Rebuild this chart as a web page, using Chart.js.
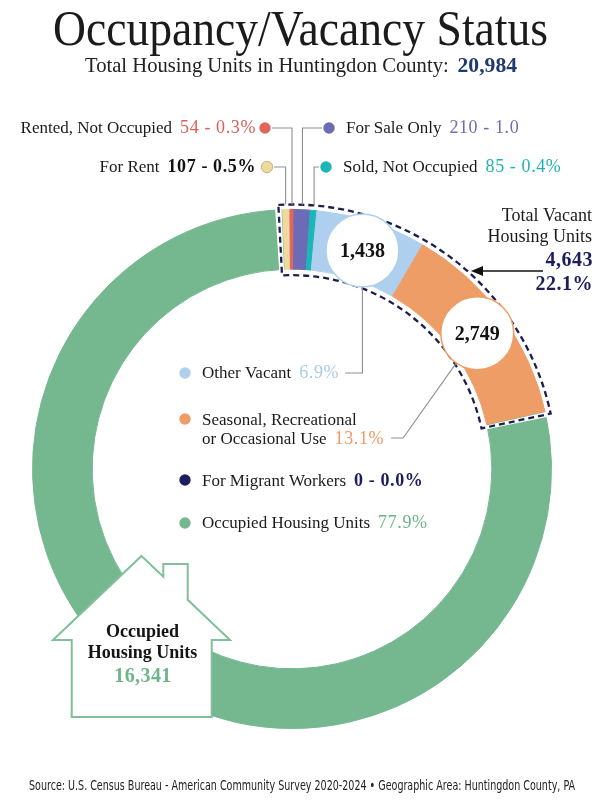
<!DOCTYPE html>
<html><head><meta charset="utf-8">
<script src="https://cdn.jsdelivr.net/npm/chart.js@4.4.1/dist/chart.umd.min.js"></script>
<style>
html,body{margin:0;padding:0;background:#fff;}
#wrap{position:relative;width:600px;height:808px;overflow:hidden;background:#fff;}
#c{position:absolute;left:0;top:0;width:600px;height:808px;}
.txt{position:absolute;white-space:nowrap;transform-origin:0 0;}
#title{font-family:'Liberation Serif',serif;font-size:50px;line-height:60px;color:#1b1b1b;left:53px;top:-2px;}
#sub{font-family:'Liberation Serif',serif;font-size:21px;line-height:25.2px;color:#222;left:85px;top:52px;}
#sub b{color:#1f3a6e;margin-left:9px;font-size:22px;}
#src{font-family:'Liberation Sans Narrow','DejaVu Sans Condensed',sans-serif;font-size:14px;line-height:16.8px;color:#222;left:29px;top:777px;}
</style></head>
<body>
<div id="wrap">
<canvas id="c" width="600" height="808"></canvas>
<div id="title" class="txt" data-w="495">Occupancy/Vacancy Status</div>
<div id="sub" class="txt" data-w="432">Total Housing Units in Huntingdon County:<b id="tot"></b></div>
<div id="src" class="txt" data-w="546">Source: U.S. Census Bureau - American Community Survey 2020-2024 • Geographic Area: Huntingdon County, PA</div>
</div>
<script>
const categories = ['For Rent', 'Rented, Not Occupied', 'For Sale Only', 'Sold, Not Occupied', 'Other Vacant', 'Seasonal, Recreational or Occasional Use', 'For Migrant Workers', 'Occupied Housing Units'];
const units = [107, 54, 210, 85, 1438, 2749, 0, 16341];
const colors = ['#efd99f', '#df6658', '#6b6bb6', '#1ab6b8', '#aecfee', '#ef9d66', '#1b1d5c', '#75b88f'];
const vacantIndexes = [0, 1, 2, 3, 4, 5, 6];

const totalUnits = units.reduce((a, b) => a + b, 0);
const vacantUnits = vacantIndexes.reduce((a, i) => a + units[i], 0);
const fmt = v => v.toLocaleString('en-US');
const pct = v => (v / totalUnits * 100).toFixed(1);

document.getElementById('tot').textContent = fmt(totalUnits);
document.querySelectorAll('[data-w]').forEach(el => {
  const w = el.getBoundingClientRect().width;
  el.style.transform = 'scaleX(' + (parseFloat(el.dataset.w) / w) + ')';
});

const SERIF = "'Liberation Serif', serif";
function fnt(p, size) { return (p.b ? 'bold ' : '') + (p.s || (p.n ? 18 : (size || 17))) + 'px ' + SERIF; }
function rich(ctx, parts, x, y, align, size) {
  const gap = 8;
  const ws = parts.map(p => { ctx.font = fnt(p, size); ctx.letterSpacing = p.n ? '0.6px' : '0px'; return ctx.measureText(p.t).width; });
  const total = ws.reduce((a, b) => a + b, 0) + gap * (parts.length - 1);
  let sx = align === 'right' ? x - total : x;
  ctx.textAlign = 'left';
  ctx.textBaseline = 'alphabetic';
  parts.forEach((p, i) => {
    ctx.font = fnt(p, size); ctx.letterSpacing = p.n ? '0.6px' : '0px';
    ctx.fillStyle = p.c || '#1a1a1a';
    ctx.fillText(p.t, sx, y);
    sx += ws[i] + gap;
  });
  ctx.letterSpacing = '0px';
  return align === 'right' ? x : sx - gap;
}
function dot(ctx, x, y, c, stroke) {
  ctx.beginPath(); ctx.arc(x, y, 5.7, 0, Math.PI * 2); ctx.fillStyle = c; ctx.fill();
  if (stroke) { ctx.lineWidth = 1; ctx.strokeStyle = stroke; ctx.stroke(); }
}

const annot = {
  id: 'annot',
  afterDatasetsDraw(chart) {
    const ctx = chart.ctx;
    const arcs = chart.getDatasetMeta(0).data;
    const A = i => arcs[i].getProps(['x', 'y', 'startAngle', 'endAngle', 'innerRadius', 'outerRadius'], true);
    const g = A(7);
    const cx = g.x, cy = g.y, ro = g.outerRadius, ri = g.innerRadius;
    const deg = Math.PI / 180;
    ctx.save();
    // gaps around the occupied segment
    ctx.fillStyle = '#fff';
    const wedge = (a0, a1, r0, r1) => { ctx.beginPath(); ctx.arc(cx, cy, r1, a0, a1); ctx.arc(cx, cy, r0, a1, a0, true); ctx.closePath(); ctx.fill(); };
    wedge(g.startAngle, g.startAngle + 1.1 * deg, ri - 2, ro + 2);
    wedge(g.endAngle - 1.4 * deg, g.endAngle, ri - 2, ro + 2);

    // dashed outline around vacant group
    const va0 = A(vacantIndexes[0]).startAngle - 0.65 * deg;
    const va1 = A(vacantIndexes[vacantIndexes.length - 1]).endAngle + 0.55 * deg;
    ctx.setLineDash([6, 4]); ctx.lineWidth = 2.3; ctx.strokeStyle = '#1c1f4e';
    ctx.beginPath(); ctx.arc(cx, cy, ro + 5, va0, va1); ctx.arc(cx, cy, ri - 6, va1, va0, true); ctx.closePath(); ctx.stroke();
    ctx.setLineDash([]);

    // leader lines for the small segments
    const outerPt = i => { const a = A(i); const m = (a.startAngle + a.endAngle) / 2; return { x: cx + (ro + 5) * Math.cos(m), y: cy + (ro + 5) * Math.sin(m) }; };
    ctx.strokeStyle = '#8f8f8f'; ctx.lineWidth = 1.1;
    const leader = (i, dx, dy, side) => {
      const p = outerPt(i);
      ctx.beginPath(); ctx.moveTo(dx + side * 7, dy); ctx.lineTo(p.x, dy); ctx.lineTo(p.x, p.y); ctx.stroke();
    };
    leader(1, 265, 128, 1);
    leader(0, 267, 167, 1);
    leader(2, 329, 128, -1);
    leader(3, 326, 167, -1);

    dot(ctx, 265, 128, colors[1]);
    dot(ctx, 267, 167, colors[0], '#c9b37c');
    dot(ctx, 329, 128, colors[2]);
    dot(ctx, 326, 167, colors[3]);

    rich(ctx, [{ t: categories[1] }, { t: fmt(units[1]) + ' - ' + pct(units[1]) + '%', c: '#dc5f55', n: true }], 256, 133, 'right');
    rich(ctx, [{ t: categories[0] }, { t: fmt(units[0]) + ' - ' + pct(units[0]) + '%', c: '#111', b: true, n: true }], 256, 172, 'right');
    rich(ctx, [{ t: categories[2] }, { t: fmt(units[2]) + ' - ' + pct(units[2]), c: '#6d6db0', n: true }], 346, 133, 'left');
    rich(ctx, [{ t: categories[3] }, { t: fmt(units[3]) + ' - ' + pct(units[3]) + '%', c: '#1fb2b3', n: true }], 343, 172, 'left');

    // value circles on the big vacant segments
    const circ = {};
    [4, 5].forEach(i => {
      const p = arcs[i].tooltipPosition(true);
      circ[i] = p;
      ctx.beginPath(); ctx.arc(p.x, p.y, 36.5, 0, Math.PI * 2);
      ctx.fillStyle = '#fff'; ctx.fill();
      ctx.lineWidth = 1.5; ctx.strokeStyle = colors[i]; ctx.stroke();
      ctx.font = 'bold 20px ' + SERIF; ctx.fillStyle = '#141414';
      ctx.textAlign = 'center'; ctx.textBaseline = 'alphabetic';
      ctx.fillText(fmt(units[i]), p.x, p.y + 7);
    });

    // center legend
    const LX = 202, DX = 185;
    ctx.strokeStyle = '#8f8f8f'; ctx.lineWidth = 1.1;
    dot(ctx, DX, 373, colors[4]);
    let e = rich(ctx, [{ t: categories[4] }, { t: pct(units[4]) + '%', c: '#a8cbea', n: true }], LX, 378, 'left');
    ctx.beginPath(); ctx.moveTo(e + 6, 373); ctx.lineTo(circ[4].x, 373); ctx.lineTo(circ[4].x, circ[4].y + 36.5); ctx.stroke();

    dot(ctx, DX, 419, colors[5]);
    const sLines = categories[5].replace(' or ', '\nor ').split('\n');
    rich(ctx, [{ t: sLines[0] }], LX, 425, 'left');
    e = rich(ctx, [{ t: sLines[1] }, { t: pct(units[5]) + '%', c: '#ee9a63', n: true }], LX, 444, 'left');
    {
      const sx = e + 7, ex = e + 19, yy = 438;
      const c5 = circ[5];
      const ang = Math.atan2(yy - c5.y, ex - c5.x);
      ctx.beginPath(); ctx.moveTo(sx, yy); ctx.lineTo(ex, yy);
      ctx.lineTo(c5.x + 36.5 * Math.cos(ang), c5.y + 36.5 * Math.sin(ang)); ctx.stroke();
    }

    dot(ctx, DX, 480, colors[6]);
    rich(ctx, [{ t: categories[6] }, { t: fmt(units[6]) + ' - ' + pct(units[6]) + '%', c: '#1b1d5c', b: true, n: true, s: 18 }], LX, 486, 'left');

    dot(ctx, DX, 523, colors[7]);
    rich(ctx, [{ t: categories[7] }, { t: pct(units[7]) + '%', c: '#6db58a', n: true }], LX, 528, 'left');

    // total vacant annotation
    ctx.textAlign = 'right'; ctx.textBaseline = 'alphabetic';
    ctx.fillStyle = '#1a1a1a'; ctx.font = '18px ' + SERIF;
    ctx.fillText('Total Vacant', 592, 221);
    ctx.fillText('Housing Units', 592, 242);
    ctx.fillStyle = '#1b1d5c'; ctx.font = 'bold 20px ' + SERIF; ctx.letterSpacing = '0.5px';
    ctx.fillText(fmt(vacantUnits), 593, 266);
    ctx.fillText(pct(vacantUnits) + '%', 593, 290);
    ctx.letterSpacing = '0px';
    ctx.strokeStyle = '#111'; ctx.lineWidth = 1.6;
    ctx.beginPath(); ctx.moveTo(543, 271); ctx.lineTo(478, 271); ctx.stroke();
    ctx.fillStyle = '#111';
    ctx.beginPath(); ctx.moveTo(471, 271); ctx.lineTo(483, 266); ctx.lineTo(483, 276); ctx.closePath(); ctx.fill();

    ctx.restore();
  },
  afterDraw(chart) {
    const ctx = chart.ctx;
    ctx.save();
    // house
    const pts = [[141.5, 556], [163.3, 576.7], [163.3, 564], [187.7, 564], [187.7, 599.8], [230, 640], [211.7, 640], [211.7, 717], [71.7, 717], [71.7, 640], [53, 640]];
    ctx.beginPath();
    pts.forEach((p, i) => i ? ctx.lineTo(p[0], p[1]) : ctx.moveTo(p[0], p[1]));
    ctx.closePath();
    ctx.fillStyle = '#fff'; ctx.fill();
    ctx.lineWidth = 2; ctx.strokeStyle = '#80bf99'; ctx.lineJoin = 'miter'; ctx.stroke();
    ctx.textAlign = 'center'; ctx.textBaseline = 'alphabetic';
    ctx.fillStyle = '#141414'; ctx.font = 'bold 18px ' + SERIF;
    ctx.fillText('Occupied', 142.5, 637);
    ctx.fillText('Housing Units', 142.5, 658);
    ctx.fillStyle = '#6fb58b'; ctx.font = 'bold 20px ' + SERIF; ctx.letterSpacing = '0.4px';
    ctx.fillText(fmt(units[7]), 143, 682);
    ctx.restore();
  }
};

new Chart(document.getElementById('c'), {
  type: 'doughnut',
  data: {
    labels: categories,
    datasets: [{
      data: units,
      backgroundColor: colors,
      borderColor: colors,
      borderWidth: units.map(v => v > 0 ? 1 : 0)
    }]
  },
  options: {
    responsive: false,
    animation: false,
    events: [],
    rotation: -2.3,
    cutout: '77%',
    layout: { padding: { left: 32, right: 48, top: 209, bottom: 79 } },
    plugins: { legend: { display: false }, tooltip: { enabled: false } }
  },
  plugins: [annot]
});
</script>
</body></html>
